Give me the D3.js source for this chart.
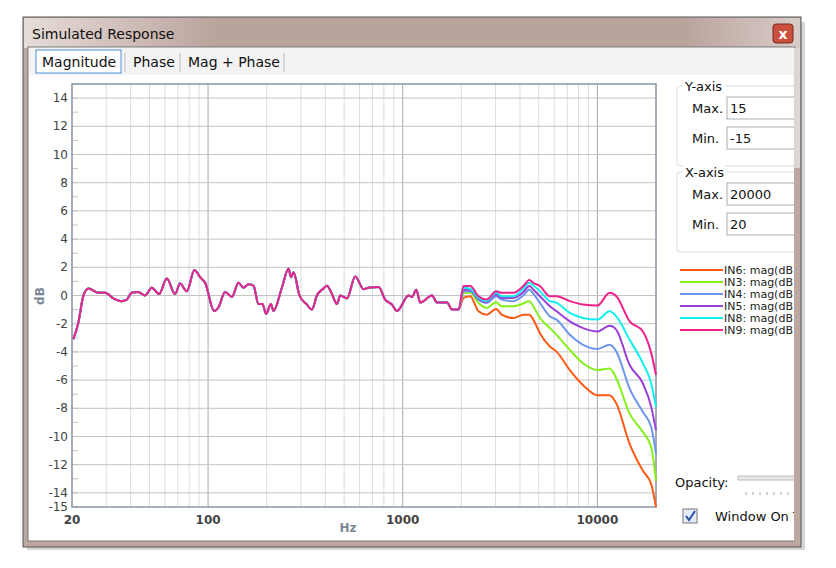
<!DOCTYPE html>
<html><head><meta charset="utf-8">
<script src="https://cdn.jsdelivr.net/npm/d3@7"></script>
<style>
body{margin:0;background:#fff;font-family:"Segoe UI","DejaVu Sans",sans-serif}
svg text{font-family:"DejaVu Sans",sans-serif}
</style></head>
<body><svg id="chart" width="836" height="568"></svg>
<script>
// common part of all responses (Hz, dB)
var baseFreq = [20.3,21.5,22.9,24.3,27.3,29.6,32.6,36.0,38.2,40.5,43.8,47.5,51.4,56.0,61.4,67.7,71.8,77.8,85.1,91.0,96.6,107.4,113.0,122.3,132.5,143.3,152.0,161.3,171.1,181.5,190.3,198.8,210.2,216.8,239.4,258.9,267.3,274.7,294.9,321.9,341.5,362.4,392.0,408.0,432.9,459.4,477.6,516.8,570.3,629.4,667.7,751.3,813.8,880.7,934.6,1072,1116,1174,1231,1414,1500,1689,1792,1937];
var baseDb = [-3.1,-2.0,0,0.5,0.2,0.2,-0.2,-0.4,-0.3,0.2,0.25,0,0.55,0.1,1.2,0.1,0.85,0.3,1.8,1.3,0.9,-1.1,-0.85,0.25,-0.1,0.9,0.55,0.8,0.7,-0.6,-0.6,-1.3,-0.6,-1.1,0.55,1.9,1.3,1.65,0,-0.65,-1.0,0,0.5,0.7,0.1,-0.6,0,-0.2,1.35,0.45,0.55,0.6,-0.3,-0.65,-1.1,0,-0.1,0.4,-0.5,0,-0.5,-0.5,-1.0,-1.0];
// high frequency part, per input
var highFreq = [2052,2221,2449,2702,3017,3225,3701,4164,4469,4684,5067,5702,6168,7219,8445,10000,11565,12513,14640,17131,18906,20000];
var in6 = [-0.17,-0.05,-1.12,-1.36,-0.95,-1.36,-1.60,-1.36,-1.36,-1.71,-2.67,-3.62,-3.98,-5.29,-6.36,-7.07,-7.07,-7.67,-10.52,-12.43,-13.38,-15.0];
var in3 = [0.19,0.19,-0.52,-0.88,-0.48,-0.76,-0.76,-0.57,-0.40,-0.76,-1.60,-2.31,-2.79,-3.86,-4.81,-5.29,-5.17,-5.88,-8.38,-9.69,-10.76,-13.14];
var in4 = [0.31,0.31,-0.29,-0.52,-0.05,-0.29,-0.40,0,0.43,0.14,-0.52,-1.48,-1.71,-2.79,-3.50,-3.79,-3.50,-3.98,-6.60,-8.26,-9.33,-11.24];
var in5 = [0.43,0.38,-0.24,-0.48,0.07,-0.17,-0.17,0.24,0.67,0.43,-0.05,-0.76,-1.12,-1.83,-2.31,-2.55,-2.14,-2.43,-4.93,-6.24,-7.90,-9.57];
var in8 = [0.55,0.48,-0.17,-0.40,0.19,-0.05,-0.05,0.48,0.90,0.71,0.31,-0.40,-0.52,-1.24,-1.60,-1.71,-1.12,-1.48,-3.14,-4.81,-6.24,-7.90];
var in9 = [0.67,0.67,-0.05,-0.29,0.31,0.19,0.19,0.67,1.10,0.90,0.67,-0.05,-0.05,-0.40,-0.64,-0.71,0.19,-0.05,-1.83,-2.55,-4.10,-5.64];
var seriesNames = ["IN6: mag(dB)","IN3: mag(dB)","IN4: mag(dB)","IN5: mag(dB)","IN8: mag(dB)","IN9: mag(dB)"];
var seriesColors = ["#ff5a14","#84f01c","#6e96f0","#9a40d8","#10f0f0","#f0208c"];
var yTicks = [-15,-14,-12,-10,-8,-6,-4,-2,0,2,4,6,8,10,12,14];
var xTicks = [20,100,1000,10000];

var svg = d3.select("#chart");
svg.append("defs").append("clipPath").attr("id","client").append("rect").attr("x",28).attr("y",47).attr("width",766).attr("height",494);
// window frame
svg.append("rect").attr("x",27).attr("y",22).attr("width",778).attr("height",528).attr("fill","#888").attr("opacity",0.35);
svg.append("rect").attr("x",23).attr("y",17).attr("width",778).attr("height",530).attr("fill","#bda7a1").attr("stroke","#555");
var g = svg.select("defs").append("linearGradient").attr("id","tb");
g.append("stop").attr("offset","0").attr("stop-color","#e6dcd8");
g.append("stop").attr("offset","0.25").attr("stop-color","#bba39d");
g.append("stop").attr("offset","0.85").attr("stop-color","#bba39d");
g.append("stop").attr("offset","1").attr("stop-color","#d8ccc8");
svg.append("rect").attr("x",24).attr("y",18).attr("width",776).attr("height",30).attr("fill","url(#tb)");
svg.append("text").attr("x",32).attr("y",39).attr("font-size",14).attr("fill","#111").text("Simulated Response");
svg.append("rect").attr("x",773).attr("y",24).attr("width",20).attr("height",19).attr("rx",3).attr("fill","#c8503c").attr("stroke","#7a2a20");
svg.append("text").attr("x",783).attr("y",39).attr("text-anchor","middle").attr("font-size",14).attr("font-weight","bold").attr("fill","#fff").text("x");
svg.append("rect").attr("x",28).attr("y",47).attr("width",767).attr("height",494).attr("fill","#fff").attr("stroke","#777");
svg.append("rect").attr("x",29).attr("y",48).attr("width",765).attr("height",27).attr("fill","#f3f3f3");
svg.append("rect").attr("x",36).attr("y",50).attr("width",85).attr("height",23).attr("fill","#fff").attr("stroke","#4a90d9");
[["Magnitude",42],["Phase",133],["Mag + Phase",188]].forEach(function(t){
  svg.append("text").attr("x",t[1]).attr("y",67).attr("font-size",14).attr("fill","#111").text(t[0]);
});
[125,180,284].forEach(function(x){svg.append("line").attr("x1",x).attr("x2",x).attr("y1",53).attr("y2",72).attr("stroke","#bbb");});

// plot
var L=72,R=656,T=84,B=507;
var x = d3.scaleLog().domain([20,20000]).range([L,R]);
var y = d3.scaleLinear().domain([-15,15]).range([B,T]);
var minor = [];
[10,100,1000,10000].forEach(function(d){for(var k=1;k<10;k++){var v=d*k;if(v>=20&&v<=20000)minor.push(v);}});
svg.append("g").selectAll("line").data(minor).join("line")
  .attr("x1",d=>x(d)).attr("x2",d=>x(d)).attr("y1",T).attr("y2",B)
  .attr("stroke",d=>[100,1000,10000].indexOf(d)>=0?"#a8a8a8":"#dcdcdc");
svg.append("g").selectAll("line").data(d3.range(-14,15,2)).join("line")
  .attr("x1",L).attr("x2",R).attr("y1",d=>y(d)).attr("y2",d=>y(d)).attr("stroke","#c4c4c4");
svg.append("g").selectAll("line").data(d3.range(-15,16,1)).join("line")
  .attr("x1",L).attr("x2",L+6).attr("y1",d=>y(d)).attr("y2",d=>y(d)).attr("stroke","#c4c4c4");
svg.append("rect").attr("x",L).attr("y",T).attr("width",R-L).attr("height",B-T).attr("fill","none").attr("stroke","#8a96a4").attr("stroke-width",1.5);

svg.append("g").selectAll("text").data(yTicks).join("text")
  .attr("x",68).attr("y",d=>y(d)+4).attr("text-anchor","end").attr("font-size",12).attr("fill","#444").text(d=>d);
svg.append("g").selectAll("text").data(xTicks).join("text")
  .attr("x",d=>x(d)).attr("y",524).attr("text-anchor","middle").attr("font-size",12).attr("font-weight","bold").attr("fill","#444").text(d=>d);
svg.append("text").attr("x",348).attr("y",532).attr("text-anchor","middle").attr("font-size",12).attr("font-weight","bold").attr("fill","#7a8898").text("Hz");
svg.append("text").attr("transform","translate(44,296) rotate(-90)").attr("text-anchor","middle").attr("font-size",12).attr("font-weight","bold").attr("fill","#7a8898").text("dB");

var line = d3.line().x(d=>x(d[0])).y(d=>y(d[1])).curve(d3.curveMonotoneX);
var base = baseFreq.map((f,i)=>[f,baseDb[i]]);
[in6,in3,in4,in5,in8,in9].forEach(function(s,k){
  var pts = base.concat(highFreq.map((f,i)=>[f,s[i]]));
  svg.append("path").datum(pts).attr("d",line).attr("fill","none")
    .attr("stroke",seriesColors[k]).attr("stroke-width",2);
});

// right panel
var panel = svg.append("g").attr("clip-path","url(#client)");
function group(yy,h,title,vals){
  panel.append("rect").attr("x",677).attr("y",yy).attr("width",125).attr("height",h).attr("rx",3).attr("fill","none").attr("stroke","#d5dde5");
  panel.append("rect").attr("x",683).attr("y",yy-7).attr("width",42).attr("height",14).attr("fill","#fff");
  panel.append("text").attr("x",685).attr("y",yy+5).attr("font-size",13).attr("fill","#111").text(title);
  [["Max.",vals[0],yy+22],["Min.",vals[1],yy+52]].forEach(function(r){
    panel.append("text").attr("x",692).attr("y",r[2]+5).attr("font-size",13).attr("fill","#111").text(r[0]);
    panel.append("rect").attr("x",727).attr("y",r[2]-11).attr("width",70).attr("height",22).attr("fill","#fff").attr("stroke","#abadb3");
    panel.append("text").attr("x",730).attr("y",r[2]+5).attr("font-size",13).attr("fill","#111").text(r[1]);
  });
}
group(86,80,"Y-axis",["15","-15"]);
group(172,80,"X-axis",["20000","20"]);
seriesNames.forEach(function(n,i){
  var yy=270+i*12;
  panel.append("line").attr("x1",680).attr("x2",723).attr("y1",yy).attr("y2",yy).attr("stroke",seriesColors[i]).attr("stroke-width",2);
  panel.append("text").attr("x",724).attr("y",yy+4).attr("font-size",11).attr("fill","#222").text(n);
});
panel.append("text").attr("x",675).attr("y",487).attr("font-size",13).attr("fill","#111").text("Opacity:");
panel.append("rect").attr("x",738).attr("y",476).attr("width",60).attr("height",4).attr("fill","#e8e8e8").attr("stroke","#bbb");
d3.range(7).forEach(function(i){panel.append("line").attr("x1",746+i*7).attr("x2",746+i*7).attr("y1",492).attr("y2",495).attr("stroke","#aaa");});
panel.append("rect").attr("x",683).attr("y",509).attr("width",14).attr("height",14).attr("fill","#e4ecf6").attr("stroke","#777");
panel.append("path").attr("d","M686,516 L689,520 L695,511").attr("fill","none").attr("stroke","#2a4fa8").attr("stroke-width",2);
panel.append("text").attr("x",715).attr("y",521).attr("font-size",13).attr("fill","#111").text("Window On Top");
svg.append("rect").attr("x",794).attr("y",48).attr("width",6).attr("height",498).attr("fill","#bda7a1");
svg.append("rect").attr("x",794).attr("y",48).attr("width",6).attr("height",120).attr("fill","#ddd6d4");
</script>
</body></html>
